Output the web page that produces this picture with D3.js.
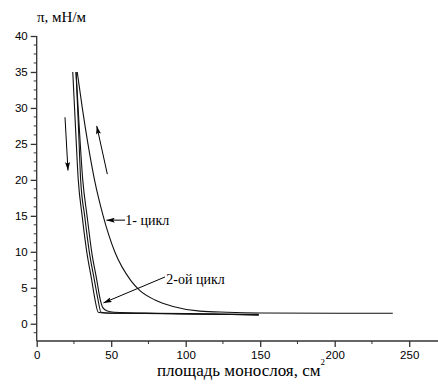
<!DOCTYPE html>
<html>
<head>
<meta charset="utf-8">
<script src="https://cdn.jsdelivr.net/npm/d3@7"></script>
<style>
  body { margin: 0; background: #fff; }
  svg text.serif, svg text.serif tspan { font-family: "Liberation Serif", "Times New Roman", serif !important; }
  svg .tick text { font-family: "Liberation Sans", Arial, sans-serif !important; }
</style>
</head>
<body>
<svg width="438" height="392"></svg>
<script>
// 1st cycle isotherm (area, pressure)
const cycle1X = [27.2, 30.6, 34.4, 38.8, 44.6, 52.4, 63.2, 69.3, 79.4, 91.5, 109.6, 127.5, 150, 200, 239];
const cycle1Y = [35, 30, 25, 20, 15, 10, 6, 4.6, 3.3, 2.4, 1.75, 1.6, 1.5, 1.45, 1.45];

// 2nd cycle: three close curves
const cycle2aX = [24.2, 26, 27.9, 30.5, 33.6, 36.9, 39, 41.3, 45, 60, 100, 149];
const cycle2aY = [35, 27.5, 20, 15, 10, 6.1, 3.5, 1.6, 1.5, 1.45, 1.35, 1.25];
const cycle2bX = [26.4, 28, 29.5, 32.2, 35.3, 38.7, 41, 43.2, 48, 70, 110, 149];
const cycle2bY = [35, 27.5, 20, 15, 10, 6.1, 3.5, 1.6, 1.5, 1.45, 1.35, 1.3];
const cycle2cX = [26.4, 28.5, 30.9, 33.8, 36.9, 40.3, 42.5, 44.5, 47, 52, 80, 120, 149];
const cycle2cY = [35, 27.5, 20, 15, 10, 6.1, 3.5, 2.2, 1.8, 1.6, 1.45, 1.35, 1.2];

const xTicks = [0, 50, 100, 150, 200, 250];
const xMinor = [25, 75, 125, 175, 225];
const yTicks = [0, 5, 10, 15, 20, 25, 30, 35, 40];

// annotation arrows in data units: [x1, y1, x2, y2] (arrow head at x2,y2)
const arrows = [
  [19, 28.7, 21, 21.3],
  [47.4, 20.8, 40.3, 27.5],
  [59.3, 14.4, 46.8, 14.4],
  [86.1, 6.5, 44.8, 2.9]
];

const svg = d3.select("svg");

const x = d3.scaleLinear().domain([0, 270]).range([36.7, 439]);
const y = d3.scaleLinear().domain([-2.4, 40]).range([341, 36]);

const zip = (xs, ys) => xs.map((v, i) => [v, ys[i]]);

svg.append("defs").append("marker")
  .attr("id", "head")
  .attr("viewBox", "0 0 10 6")
  .attr("refX", 10).attr("refY", 3)
  .attr("markerWidth", 10).attr("markerHeight", 5)
  .attr("markerUnits", "userSpaceOnUse")
  .attr("orient", "auto")
  .append("path")
  .attr("d", "M0,0 L10,3 L0,6 L2,3 Z")
  .attr("fill", "#000");

// axes
const yMinor = d3.range(-1.25, 40, 1.25).filter(v => Math.abs(v / 5 - Math.round(v / 5)) > 1e-6);

const yAxis = svg.append("g")
  .attr("transform", `translate(${x(0)},0)`)
  .call(d3.axisLeft(y).tickValues(yTicks).tickSize(6).tickPadding(3).tickFormat(d3.format("d")));
yAxis.append("g").selectAll("line")
  .data(yMinor)
  .join("line")
  .attr("x1", -3).attr("x2", 0)
  .attr("y1", d => y(d)).attr("y2", d => y(d))
  .attr("stroke", "#333");
yAxis.select(".domain").attr("d", `M0,${y(40)}V${y(-2.4)}`);

const xAxis = svg.append("g")
  .attr("transform", `translate(0,${y(-2.4)})`)
  .call(d3.axisBottom(x).tickValues(xTicks).tickSize(6).tickPadding(4).tickFormat(d3.format("d")));
xAxis.append("g").selectAll("line")
  .data(xMinor)
  .join("line")
  .attr("x1", d => x(d)).attr("x2", d => x(d))
  .attr("y1", 0).attr("y2", 3)
  .attr("stroke", "#333");
xAxis.select(".domain").attr("d", `M${x(0)},0H438`);

yAxis.attr("font-family", null).attr("font-size", 11.5);
xAxis.attr("font-family", null).attr("font-size", 11.5);
svg.selectAll(".domain, .tick line").attr("stroke", "#333").attr("stroke-width", 1.3);
svg.selectAll(".tick text").attr("fill", "#000");

// curves
const line = d3.line()
  .x(d => x(d[0]))
  .y(d => y(d[1]))
  .curve(d3.curveMonotoneX);

const series = [
  zip(cycle2aX, cycle2aY),
  zip(cycle2bX, cycle2bY),
  zip(cycle2cX, cycle2cY),
  zip(cycle1X, cycle1Y)
];

svg.append("g")
  .selectAll("path")
  .data(series)
  .join("path")
  .attr("d", line)
  .attr("fill", "none")
  .attr("stroke", "#111")
  .attr("stroke-width", 1.1);

// arrows
svg.append("g")
  .selectAll("line")
  .data(arrows)
  .join("line")
  .attr("x1", d => x(d[0])).attr("y1", d => y(d[1]))
  .attr("x2", d => x(d[2])).attr("y2", d => y(d[3]))
  .attr("stroke", "#000")
  .attr("stroke-width", 1)
  .attr("marker-end", "url(#head)");

// labels
svg.append("text")
  .attr("class", "serif")
  .attr("x", x(59.5)).attr("y", y(14.4) + 4.5)
  .attr("font-size", 14)
  .text("1- цикл");

svg.append("text")
  .attr("class", "serif")
  .attr("x", x(87)).attr("y", y(6.5) + 7)
  .attr("font-size", 14)
  .text("2-ой цикл");

svg.append("text")
  .attr("class", "serif")
  .attr("x", 37).attr("y", 22)
  .attr("font-size", 15)
  .text("π, мН/м");

const xl = svg.append("text")
  .attr("class", "serif")
  .attr("x", 157).attr("y", 376)
  .attr("font-size", 17)
  .text("площадь монослоя, см");
xl.append("tspan")
  .attr("font-size", 9)
  .attr("dy", -11)
  .text("2");
</script>
</body>
</html>
